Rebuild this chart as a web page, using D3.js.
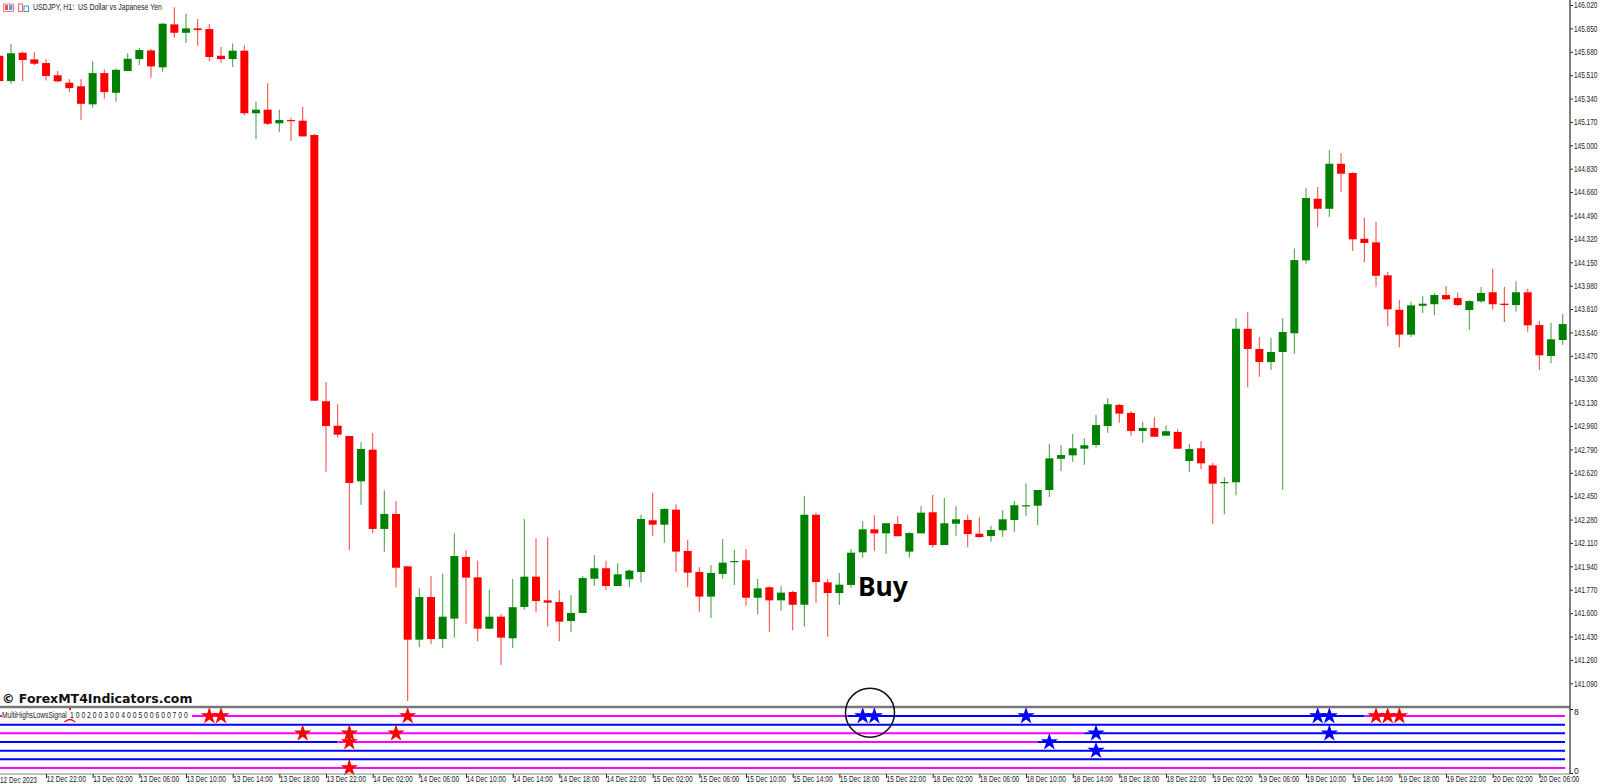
<!DOCTYPE html>
<html>
<head>
<meta charset="utf-8">
<title>USDJPY, H1</title>
<script src="https://cdn.jsdelivr.net/npm/d3@7/dist/d3.min.js"></script>
<style>
html,body{margin:0;padding:0;background:#fff;overflow:hidden}
svg{display:block}
.small{font-family:"Liberation Sans",sans-serif;font-size:8.5px;fill:#1a1a1a}
</style>
</head>
<body>
<svg id="c" width="1600" height="784"></svg>
<script>
const open=[145.651,145.467,145.673,145.625,145.598,145.509,145.455,145.429,145.298,145.525,145.382,145.540,145.627,145.690,145.567,145.879,145.818,145.850,145.845,145.651,145.627,145.688,145.233,145.259,145.160,145.184,145.179,145.075,143.140,142.962,142.887,142.558,142.788,142.212,142.321,141.940,141.407,141.717,141.412,141.560,142.008,141.860,141.487,141.574,141.417,141.645,141.865,141.693,141.681,141.543,141.601,141.850,141.926,141.797,141.846,141.899,142.275,142.243,142.352,142.052,141.899,141.720,141.885,141.970,141.984,141.712,141.788,141.693,141.754,141.661,142.315,141.824,141.746,141.805,142.042,142.209,142.180,142.248,142.047,142.180,142.333,142.095,142.250,142.277,142.177,142.160,142.202,142.277,142.379,142.381,142.495,142.722,142.747,142.795,142.822,142.960,143.113,143.055,142.924,142.946,142.890,142.917,142.706,142.798,142.674,142.544,142.551,143.667,143.520,143.425,143.498,143.634,144.164,144.612,144.539,144.866,144.799,144.321,144.295,144.055,143.805,143.624,143.834,143.845,143.912,143.890,143.803,143.866,143.932,143.849,143.839,143.932,143.694,143.469,143.585];
const high=[145.664,145.736,145.680,145.678,145.625,145.540,145.480,145.480,145.611,145.552,145.560,145.669,145.709,145.698,145.889,146.003,145.959,145.918,145.884,145.714,145.741,145.727,145.317,145.451,145.259,145.201,145.278,145.082,143.280,143.120,142.887,142.842,142.909,142.493,142.415,141.943,141.781,141.870,141.887,142.180,142.057,141.981,141.770,141.594,141.848,142.284,142.146,142.151,141.766,141.730,141.870,142.020,141.981,141.962,141.919,142.315,142.475,142.362,142.391,142.132,141.933,141.950,142.137,142.061,142.066,141.848,141.795,141.795,141.763,142.454,142.330,141.848,141.892,142.066,142.267,142.311,142.253,142.304,142.188,142.377,142.459,142.437,142.377,142.315,142.297,142.236,142.347,142.415,142.544,142.495,142.829,142.822,142.902,142.871,143.042,143.161,143.120,143.069,142.989,143.023,142.965,142.936,142.829,142.849,142.693,142.587,143.743,143.786,143.607,143.600,143.743,144.251,144.690,144.697,144.964,144.942,144.804,144.474,144.443,144.081,143.876,143.863,143.903,143.927,143.978,143.929,143.874,143.970,144.103,143.970,144.012,143.958,143.725,143.711,143.774];
const low=[145.453,145.448,145.467,145.584,145.472,145.460,145.387,145.186,145.273,145.339,145.317,145.540,145.584,145.491,145.535,145.782,145.744,145.724,145.611,145.600,145.569,145.218,145.044,145.148,145.097,145.033,145.065,143.144,142.628,142.875,142.059,142.388,142.180,142.047,141.788,140.962,141.352,141.374,141.347,141.422,141.523,141.395,141.487,141.225,141.347,141.625,141.606,141.502,141.395,141.463,141.601,141.797,141.766,141.797,141.788,141.824,142.163,142.112,141.899,141.788,141.610,141.565,141.850,141.805,141.654,141.592,141.465,141.618,141.475,141.502,141.676,141.429,141.661,141.785,142.003,142.054,142.032,142.159,142.003,142.180,142.076,142.095,142.163,142.078,142.148,142.119,142.153,142.190,142.306,142.238,142.444,142.631,142.701,142.679,142.802,142.911,142.984,142.890,142.839,142.882,142.890,142.791,142.626,142.648,142.248,142.318,142.456,143.241,143.318,143.367,142.495,143.485,144.140,144.406,144.481,144.663,144.232,144.152,143.972,143.687,143.532,143.607,143.781,143.765,143.876,143.832,143.658,143.856,143.805,143.716,143.791,143.645,143.367,143.416,143.549];
const close=[145.467,145.669,145.620,145.593,145.504,145.465,145.416,145.302,145.525,145.387,145.549,145.629,145.693,145.574,145.884,145.818,145.850,145.838,145.642,145.627,145.688,145.233,145.259,145.157,145.184,145.177,145.065,143.144,142.960,142.897,142.546,142.793,142.212,142.321,141.930,141.407,141.717,141.412,141.574,142.015,141.858,141.487,141.574,141.422,141.643,141.865,141.688,141.676,141.538,141.601,141.855,141.926,141.797,141.882,141.909,142.284,142.243,142.357,142.047,141.894,141.720,141.892,141.967,141.979,141.712,141.780,141.693,141.749,141.661,142.315,141.826,141.746,141.807,142.039,142.209,142.180,142.253,142.159,142.182,142.330,142.095,142.253,142.282,142.175,142.153,142.204,142.282,142.384,142.384,142.495,142.725,142.749,142.798,142.820,142.967,143.118,143.050,142.924,142.946,142.882,142.922,142.795,142.793,142.689,142.541,142.553,143.667,143.520,143.425,143.498,143.643,144.166,144.617,144.539,144.866,144.794,144.317,144.290,144.052,143.808,143.624,143.837,143.849,143.912,143.881,143.839,143.868,143.927,143.845,143.839,143.932,143.692,143.474,143.590,143.701];
const priceTicks=[146.02,145.85,145.68,145.51,145.34,145.17,145.00,144.83,144.66,144.49,144.32,144.15,143.98,143.81,143.64,143.47,143.30,143.13,142.96,142.79,142.62,142.45,142.28,142.11,141.94,141.77,141.60,141.43,141.26,141.09];
const timeBars=[4,8,12,16,20,24,28,32,36,40,44,48,52,56,60,64,68,72,76,80,84,88,92,96,100,104,108,112,116,120,124,128,132];
const timeLabels=["12 Dec 22:00","13 Dec 02:00","13 Dec 06:00","13 Dec 10:00","13 Dec 14:00","13 Dec 18:00","13 Dec 22:00","14 Dec 02:00","14 Dec 06:00","14 Dec 10:00","14 Dec 14:00","14 Dec 18:00","14 Dec 22:00","15 Dec 02:00","15 Dec 06:00","15 Dec 10:00","15 Dec 14:00","15 Dec 18:00","15 Dec 22:00","18 Dec 02:00","18 Dec 06:00","18 Dec 10:00","18 Dec 14:00","18 Dec 18:00","18 Dec 22:00","19 Dec 02:00","19 Dec 06:00","19 Dec 10:00","19 Dec 14:00","19 Dec 18:00","19 Dec 22:00","20 Dec 02:00","20 Dec 06:00"];
// indicator levels: [level, first bar, last bar, state]
const levelSegments=[
 [7,0,72.7,"sell"],[7,72.7,117,"buy"],[7,117,134.2,"sell"],
 [6,0,134.2,"buy"],
 [5,0,93,"sell"],[5,93,134.2,"buy"],
 [4,0,29,"buy"],[4,29,89,"sell"],[4,89,134.2,"buy"],
 [3,0,134.2,"buy"],
 [2,0,134.2,"buy"],
 [1,0,134.2,"sell"]
];
// indicator signals: [bar, level, state]
const signals=[
 [18,7,"sell"],[19,7,"sell"],[35,7,"sell"],[26,5,"sell"],[30,5,"sell"],[34,5,"sell"],[30,4,"sell"],[30,1,"sell"],
 [118,7,"sell"],[119,7,"sell"],[120,7,"sell"],
 [74,7,"buy"],[75,7,"buy"],[88,7,"buy"],[113,7,"buy"],[114,7,"buy"],[90,4,"buy"],[94,5,"buy"],[94,3,"buy"],[114,5,"buy"]
];
const stateColor={sell:"#ff00ff",buy:"#0000ff"};
const starColor={sell:"#ff0000",buy:"#0000ff"};

const svg=d3.select("#c");
const x=d3.scaleLinear().domain([0,134]).range([-0.67,1562.7]);
const y=d3.scaleLinear().domain([146.02,141.09]).range([5,683.3]);
const lv=d3.scaleLinear().domain([1,7]).range([768,716]);
const sub=d3.scaleLinear().domain([0,8]).range([773,709]);
const bars=d3.range(open.length);
const col=i=>close[i]>=open[i]?"#008000":"#ff0000";

// squeeze a text horizontally to the narrow width of the terminal's font
function fit(sel,w){
 sel.each(function(){
  const t=d3.select(this), tx=+(t.attr("x")||0), k=w/this.getComputedTextLength();
  t.attr("x",0).attr("text-anchor","start").attr("transform",`translate(${tx},0) scale(${k},1)`);
 });
 return sel;
}

// wicks and bodies
const main=svg.append("g");
main.selectAll("line.w").data(bars).join("line").attr("class","w")
 .attr("x1",x).attr("x2",x).attr("y1",i=>y(high[i])).attr("y2",i=>y(low[i]))
 .attr("stroke",col).attr("stroke-width",1.1).attr("stroke-opacity",0.7);
main.selectAll("rect.b").data(bars).join("rect").attr("class","b")
 .attr("x",i=>x(i)-4).attr("width",8)
 .attr("y",i=>Math.min(y(open[i]),y(close[i])))
 .attr("height",i=>Math.max(1.2,Math.abs(y(open[i])-y(close[i]))))
 .attr("fill",col);

// price axis
const ay=svg.append("g").attr("transform","translate(1570,0)")
 .call(d3.axisRight(y).tickValues(priceTicks).tickFormat(d3.format(".3f")).tickSize(3).tickPadding(1));
ay.select(".domain").remove();
ay.selectAll("line").attr("stroke","#222");
fit(ay.selectAll("text").attr("class","small").attr("font-family",null).attr("font-size",null),23.5);

// watermark
svg.append("text").attr("x",2).attr("y",703).attr("font-family","DejaVu Sans").attr("font-weight","bold")
 .attr("font-size",12.5).attr("fill","#111").text("© ForexMT4Indicators.com");

// sub window levels
const ind=svg.append("g");
ind.selectAll("line").data(levelSegments).join("line")
 .attr("x1",d=>x(d[1])).attr("x2",d=>x(d[2])).attr("y1",d=>lv(d[0])).attr("y2",d=>lv(d[0]))
 .attr("stroke",d=>stateColor[d[3]]).attr("stroke-width",2);

// indicator label
svg.append("rect").attr("x",2).attr("y",709).attr("width",190).attr("height",13).attr("fill","#fff");
fit(svg.append("text").attr("class","small").attr("x",2).attr("y",718).text("MultiHighsLowsSignal"),65);
fit(svg.append("text").attr("class","small").attr("x",70).attr("y",718).text("1 0 0 2 0 0 3 0 0 4 0 0 5 0 0 6 0 0 7 0 0"),118);
svg.append("path").attr("d","M64.5,722 Q70,717 75,722").attr("fill","none").attr("stroke","#ff0000").attr("stroke-width",1.2);
svg.append("rect").attr("x",69).attr("y",708).attr("width",2).attr("height",2).attr("fill","#ff0000");

// stars
const star=d3.symbol().type(d3.symbolStar).size(94);
svg.append("g").selectAll("path").data(signals).join("path")
 .attr("d",star).attr("transform",d=>`translate(${x(d[0])},${lv(d[1])})`).attr("fill",d=>starColor[d[2]]);

// frame
svg.append("line").attr("x1",0).attr("x2",1570).attr("y1",707).attr("y2",707).attr("stroke","#777").attr("stroke-width",2.6);
svg.append("line").attr("x1",0).attr("x2",1570).attr("y1",774).attr("y2",774).attr("stroke","#808080").attr("stroke-width",1);
svg.append("line").attr("x1",1570).attr("x2",1570).attr("y1",0).attr("y2",774).attr("stroke","#555").attr("stroke-width",1.5);

// sub axis
const as=svg.append("g").attr("transform","translate(1570,0)")
 .call(d3.axisRight(sub).tickValues([8,0]).tickFormat(d3.format("d")).tickSize(3).tickPadding(1));
as.select(".domain").remove();
as.selectAll("line").attr("stroke","#222");
as.selectAll("text").attr("class","small").attr("font-family",null).attr("font-size",null)
 .attr("dy",d=>d===8?"0.65em":"0.05em");

// time axis
const ax=svg.append("g").attr("transform","translate(0,774)")
 .call(d3.axisBottom(x).tickValues(timeBars).tickFormat(d=>timeLabels[timeBars.indexOf(d)]).tickSize(4).tickPadding(0));
ax.select(".domain").remove();
ax.selectAll("line").attr("stroke","#222");
fit(ax.selectAll("text").attr("class","small").attr("font-family",null).attr("font-size",null).attr("y",2),39.5);
fit(svg.append("text").attr("class","small").attr("x",0).attr("y",783).text("12 Dec 2023"),37);

// header
const ic=svg.append("g");
ic.append("rect").attr("x",3.5).attr("y",4).attr("width",10).attr("height",7.5).attr("fill","none").attr("stroke","#f08080");
ic.append("rect").attr("x",5).attr("y",5).attr("width",3).attr("height",5).attr("fill","#f05050");
ic.append("rect").attr("x",9).attr("y",5).attr("width",3.5).attr("height",5).attr("fill","#5aa0e0");
ic.append("rect").attr("x",18.5).attr("y",4).attr("width",4).attr("height",7.5).attr("fill","none").attr("stroke","#f06060");
ic.append("rect").attr("x",24).attr("y",6).attr("width",4.5).attr("height",5.5).attr("fill","none").attr("stroke","#4a90d8");
fit(svg.append("text").attr("x",33).attr("y",10.5).attr("font-family","Liberation Sans").attr("font-size",8.5).attr("fill","#222")
 .attr("xml:space","preserve").text("USDJPY, H1:  US Dollar vs Japanese Yen"),129);

// annotation
svg.append("text").attr("x",858).attr("y",596).attr("font-family","Noto Sans").attr("font-weight","bold")
 .attr("font-size",26.5).attr("fill","#000").text("Buy");
svg.append("circle").attr("cx",870).attr("cy",712.7).attr("r",24.5).attr("fill","none").attr("stroke","#111").attr("stroke-width",1.5);
</script>
</body>
</html>
